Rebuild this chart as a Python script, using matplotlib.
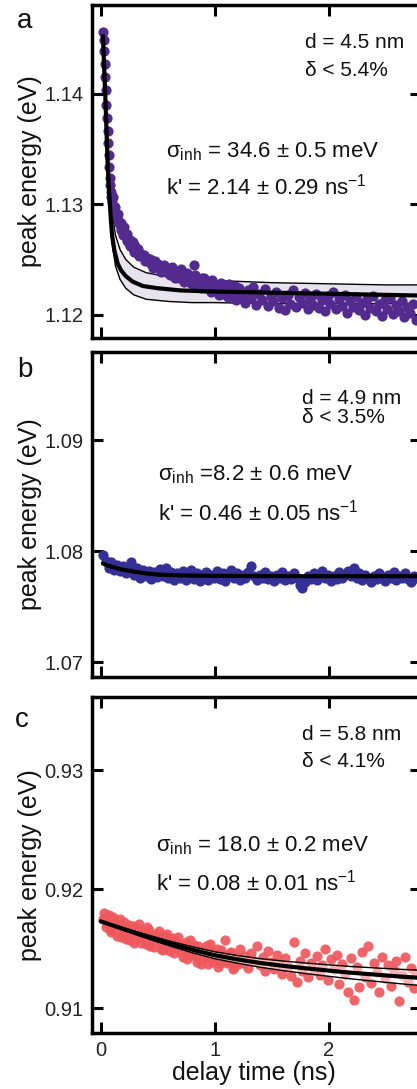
import matplotlib
matplotlib.use("Agg")
import matplotlib.pyplot as plt

plt.rcParams['font.family'] = ['Liberation Sans', 'DejaVu Sans']
plt.rcParams['mathtext.fontset'] = 'custom'
plt.rcParams['mathtext.rm'] = 'Liberation Sans'
plt.rcParams['mathtext.default'] = 'regular'

# ---------------- data ----------------
# panel a: d = 4.5 nm
delay_a = [0.020, 0.025, 0.030, 0.035, 0.040, 0.045, 0.050, 0.055, 0.060, 0.065,
           0.070, 0.075, 0.080, 0.085, 0.090, 0.095, 0.100, 0.110, 0.120, 0.130,
           0.140, 0.150, 0.160, 0.170, 0.180, 0.190, 0.200, 0.215, 0.230, 0.245,
           0.260, 0.275, 0.290,
           0.315, 0.340, 0.365, 0.390, 0.415, 0.440, 0.465, 0.490, 0.515, 0.540,
           0.565, 0.590, 0.615, 0.640, 0.665, 0.690, 0.715, 0.740, 0.765, 0.790,
           0.815, 0.840, 0.865, 0.890, 0.915, 0.940, 0.965, 0.990, 1.015, 1.040,
           1.065, 1.090, 1.115, 1.140, 1.165, 1.190, 1.215, 1.240, 1.265, 1.290,
           1.315, 1.340, 1.365, 1.390, 1.415, 1.440, 1.465, 1.490, 1.515, 1.540,
           1.565, 1.590, 1.615, 1.640, 1.665, 1.690, 1.715, 1.740, 1.765, 1.790,
           1.815, 1.840, 1.865, 1.890, 1.915, 1.940, 1.965, 1.990, 2.015, 2.040,
           2.065, 2.090, 2.115, 2.140, 2.165, 2.190, 2.215, 2.240, 2.265, 2.290,
           2.315, 2.340, 2.365, 2.390, 2.415, 2.440, 2.465, 2.490, 2.515, 2.540,
           2.565, 2.590, 2.615, 2.640, 2.665, 2.690, 2.715, 2.740, 2.765]
energy_a = [1.1456, 1.1448, 1.1438, 1.1427, 1.1415, 1.1403, 1.1390, 1.1378, 1.1366, 1.1355,
            1.1344, 1.1334, 1.1324, 1.1317, 1.1311, 1.1306, 1.1302, 1.1298, 1.1296, 1.1292,
            1.1290, 1.1286, 1.1283, 1.1281, 1.1277, 1.1276, 1.1272, 1.1271, 1.1267, 1.1265,
            1.1262, 1.1261, 1.1257,
            1.1256, 1.1253, 1.1253, 1.1249, 1.1249, 1.1246, 1.1247, 1.1243, 1.1244, 1.1240,
            1.1242, 1.1238, 1.1240, 1.1236, 1.1238, 1.1233, 1.1236, 1.1231, 1.1234, 1.1229,
            1.1245, 1.1231, 1.1226, 1.1233, 1.1224, 1.1230, 1.1221, 1.1228, 1.1223, 1.1218,
            1.1227, 1.1220, 1.1216, 1.1226, 1.1219, 1.1213, 1.1224, 1.1217, 1.1211, 1.1222,
            1.1215, 1.1225, 1.1209, 1.1219, 1.1213, 1.1223, 1.1208, 1.1217, 1.1212, 1.1221,
            1.1206, 1.1215, 1.1204, 1.1218, 1.1210, 1.1222, 1.1207, 1.1216, 1.1211, 1.1220,
            1.1205, 1.1214, 1.1209, 1.1219, 1.1206, 1.1213, 1.1203, 1.1217, 1.1210, 1.1221,
            1.1205, 1.1214, 1.1208, 1.1218, 1.1202, 1.1212, 1.1207, 1.1216, 1.1204, 1.1211,
            1.1200, 1.1214, 1.1206, 1.1217, 1.1203, 1.1210, 1.1199, 1.1213, 1.1205, 1.1215,
            1.1201, 1.1209, 1.1203, 1.1212, 1.1198, 1.1207, 1.1202, 1.1210, 1.1195]
# interleaved acquisitions of panel a during the fast decay
delay_a_mid = [0.105, 0.130, 0.155, 0.180, 0.205, 0.230, 0.255, 0.280, 0.305, 0.330,
               0.355, 0.380, 0.405, 0.430, 0.455, 0.480, 0.505, 0.530, 0.555, 0.580,
               0.605, 0.630, 0.655, 0.680, 0.705, 0.730, 0.755, 0.780, 0.805, 0.830,
               0.855, 0.880, 0.905, 0.930, 0.955, 0.980, 1.005, 1.030, 1.055, 1.080,
               1.105, 1.130, 1.155, 1.180, 1.205]
energy_a_mid = [1.1306, 1.1297, 1.1291, 1.1283, 1.1279, 1.1273, 1.1268, 1.1266, 1.1262, 1.1259,
                1.1255, 1.1254, 1.1251, 1.1250, 1.1242, 1.1249, 1.1246, 1.1239, 1.1245, 1.1242,
                1.1236, 1.1243, 1.1233, 1.1239, 1.1241, 1.1230, 1.1238, 1.1235, 1.1228, 1.1236,
                1.1230, 1.1224, 1.1233, 1.1227, 1.1222, 1.1231, 1.1225, 1.1220, 1.1229, 1.1223,
                1.1217, 1.1228, 1.1221, 1.1226, 1.1215]

fit_t_a = [0.02, 0.03, 0.04, 0.05, 0.06, 0.07, 0.08, 0.09, 0.10, 0.12, 0.15, 0.18,
           0.22, 0.28, 0.37, 0.50, 0.70, 1.00, 1.50, 2.00, 2.50, 3.00]
fit_a = [1.1452, 1.1425, 1.1400, 1.1370, 1.1340, 1.1318, 1.1302, 1.1285, 1.1272, 1.1258,
         1.1246, 1.1240, 1.1235, 1.1230, 1.1226, 1.1224, 1.1222, 1.1221, 1.1220, 1.1219,
         1.1218, 1.1217]
band_t_a = [0.02, 0.04, 0.06, 0.08, 0.10, 0.13, 0.17, 0.22, 0.29, 0.40, 0.60, 0.80,
            1.00, 1.50, 2.00, 2.50, 3.00]
band_lo_a = [1.1450, 1.1392, 1.1330, 1.1290, 1.1265, 1.1244, 1.1232, 1.1224, 1.1218, 1.1214,
             1.1212, 1.1211, 1.1211, 1.1210, 1.1210, 1.1210, 1.1210]
band_hi_a = [1.1455, 1.1408, 1.1355, 1.1318, 1.1293, 1.1272, 1.1259, 1.1250, 1.1243, 1.1238,
             1.1234, 1.1232, 1.1231, 1.1229, 1.1228, 1.1227, 1.1227]

# panels b and c share the same delay sampling
delay_bc = [0.020, 0.045, 0.070, 0.095, 0.120, 0.145, 0.170, 0.195, 0.220, 0.245,
            0.270, 0.295, 0.320, 0.345, 0.370, 0.395, 0.420, 0.445, 0.470, 0.495,
            0.520, 0.545, 0.570, 0.595, 0.620, 0.645, 0.670, 0.695, 0.720, 0.745,
            0.770, 0.795, 0.820, 0.845, 0.870, 0.895, 0.920, 0.945, 0.970, 0.995,
            1.020, 1.045, 1.070, 1.095, 1.120, 1.145, 1.170, 1.195, 1.220, 1.245,
            1.270, 1.295, 1.320, 1.345, 1.370, 1.395, 1.420, 1.445, 1.470, 1.495,
            1.520, 1.545, 1.570, 1.595, 1.620, 1.645, 1.670, 1.695, 1.720, 1.745,
            1.770, 1.795, 1.820, 1.845, 1.870, 1.895, 1.920, 1.945, 1.970, 1.995,
            2.020, 2.045, 2.070, 2.095, 2.120, 2.145, 2.170, 2.195, 2.220, 2.245,
            2.270, 2.295, 2.320, 2.345, 2.370, 2.395, 2.420, 2.445, 2.470, 2.495,
            2.520, 2.545, 2.570, 2.595, 2.620, 2.645, 2.670, 2.695, 2.720, 2.745,
            2.770]

# panel b: d = 4.9 nm
energy_b = [1.0797, 1.0791, 1.0785, 1.0790, 1.0783, 1.0788, 1.0782, 1.0787, 1.0780, 1.0786,
            1.0790, 1.0779, 1.0785, 1.0776, 1.0783, 1.0778, 1.0782, 1.0775, 1.0781, 1.0777,
            1.0784, 1.0778, 1.0785, 1.0776, 1.0781, 1.0774, 1.0780, 1.0776, 1.0782, 1.0774,
            1.0779, 1.0783, 1.0775, 1.0780, 1.0773, 1.0778, 1.0781, 1.0774, 1.0779, 1.0776,
            1.0782, 1.0775, 1.0780, 1.0773, 1.0778, 1.0783, 1.0776, 1.0780, 1.0774, 1.0779,
            1.0776, 1.0781, 1.0787, 1.0778, 1.0774, 1.0779, 1.0776, 1.0781, 1.0775, 1.0778,
            1.0773, 1.0779, 1.0776, 1.0781, 1.0774, 1.0778, 1.0775, 1.0780, 1.0776, 1.0770,
            1.0767, 1.0772, 1.0778, 1.0775, 1.0780, 1.0774, 1.0779, 1.0782, 1.0776, 1.0779,
            1.0773, 1.0778, 1.0775, 1.0781, 1.0776, 1.0779, 1.0782, 1.0778, 1.0785, 1.0776,
            1.0780, 1.0774, 1.0779, 1.0776, 1.0772, 1.0778, 1.0775, 1.0780, 1.0777, 1.0773,
            1.0779, 1.0776, 1.0781, 1.0774, 1.0778, 1.0776, 1.0780, 1.0775, 1.0772, 1.0778,
            1.0776]
fit_t_b = [0.02, 0.05, 0.10, 0.15, 0.20, 0.30, 0.40, 0.50, 0.70, 1.00, 1.50, 2.00, 3.00]
fit_b = [1.07890, 1.07875, 1.07860, 1.07845, 1.07833, 1.07815, 1.07800, 1.07790, 1.07782,
         1.07778, 1.07776, 1.07775, 1.07775]

# panel c: d = 5.8 nm
energy_c = [0.9175, 0.9168, 0.9178, 0.9164, 0.9173, 0.9161, 0.9175, 0.9166, 0.9158, 0.9170,
            0.9163, 0.9155, 0.9167, 0.9160, 0.9164, 0.9154, 0.9166, 0.9158, 0.9151, 0.9162,
            0.9156, 0.9149, 0.9160, 0.9153, 0.9157, 0.9146, 0.9155, 0.9151, 0.9143, 0.9156,
            0.9150, 0.9145, 0.9153, 0.9139, 0.9148, 0.9142, 0.9152, 0.9137, 0.9147, 0.9141,
            0.9150, 0.9138, 0.9145, 0.9157, 0.9140, 0.9147, 0.9135, 0.9143, 0.9150, 0.9138,
            0.9144, 0.9134, 0.9146, 0.9140, 0.9152, 0.9136, 0.9143, 0.9131, 0.9148, 0.9139,
            0.9133, 0.9145, 0.9137, 0.9129, 0.9142, 0.9135, 0.9127, 0.9156, 0.9122, 0.9140,
            0.9131, 0.9146, 0.9126, 0.9138, 0.9132, 0.9144, 0.9128, 0.9136, 0.9150, 0.9124,
            0.9141, 0.9133, 0.9145, 0.9120, 0.9137, 0.9129, 0.9114, 0.9142, 0.9107, 0.9135,
            0.9118, 0.9147, 0.9126, 0.9152, 0.9121, 0.9138, 0.9130, 0.9114, 0.9143, 0.9125,
            0.9136, 0.9119, 0.9132, 0.9140, 0.9106, 0.9128, 0.9143, 0.9122, 0.9134, 0.9117,
            0.9129]
# interleaved early acquisitions of panel c
delay_c_early = [0.0325, 0.0575, 0.0825, 0.1075, 0.1325, 0.1575, 0.1825, 0.2075,
                 0.2325, 0.2575, 0.2825, 0.3075, 0.3325, 0.3575, 0.3825, 0.4075,
                 0.4325, 0.4575, 0.4825, 0.5075, 0.5325, 0.5575, 0.5825, 0.6075,
                 0.6325, 0.6575, 0.6825, 0.7075, 0.7325, 0.7575, 0.7825, 0.8075,
                 0.8325, 0.8575, 0.8825, 0.9075, 0.9325, 0.9575, 0.9825, 1.0075,
                 1.0325, 1.0575, 1.0825, 1.1075, 1.1325, 1.1575, 1.1825, 1.2075]
energy_c_early = [0.9180, 0.9171, 0.9166, 0.9177, 0.9168, 0.9170, 0.9160, 0.9172,
                  0.9165, 0.9157, 0.9169, 0.9162, 0.9171, 0.9155, 0.9163, 0.9168,
                  0.9152, 0.9161, 0.9157, 0.9165, 0.9150, 0.9158, 0.9162, 0.9148,
                  0.9159, 0.9154, 0.9160, 0.9147, 0.9153, 0.9141, 0.9157, 0.9150,
                  0.9144, 0.9152, 0.9137, 0.9148, 0.9143, 0.9154, 0.9139, 0.9146,
                  0.9135, 0.9149, 0.9141, 0.9138, 0.9146, 0.9133, 0.9142, 0.9137]
fit_t_c = [0.0, 0.2, 0.4, 0.6, 0.8, 1.0, 1.2, 1.4, 1.6, 1.8, 2.0, 2.2, 2.4, 2.6, 2.8, 3.0]
fit_c = [0.91730, 0.91665, 0.91603, 0.91545, 0.91492, 0.91445, 0.91410, 0.91380, 0.91356,
         0.91335, 0.91316, 0.91298, 0.91283, 0.91268, 0.91255, 0.91243]
band_lo_c = [0.91730, 0.91655, 0.91587, 0.91525, 0.91467, 0.91416, 0.91378, 0.91344, 0.91316,
             0.91291, 0.91268, 0.91246, 0.91227, 0.91208, 0.91191, 0.91175]
band_hi_c = [0.91730, 0.91675, 0.91619, 0.91565, 0.91517, 0.91474, 0.91442, 0.91416, 0.91396,
             0.91379, 0.91364, 0.91350, 0.91339, 0.91328, 0.91319, 0.91311]

yticks_a = [1.12, 1.13, 1.14]
yticks_b = [1.07, 1.08, 1.09]
yticks_c = [0.91, 0.92, 0.93]
xticks = [0, 1, 2]

# ---------------- layout ----------------
W, H = 417, 1089
fig = plt.figure(figsize=(W / 100, H / 100), dpi=100)


def box(left, top, right, bottom):
    return [left / W, 1 - bottom / H, (right - left) / W, (bottom - top) / H]


ax_a = fig.add_axes(box(92, 5, 421, 338))
ax_b = fig.add_axes(box(92, 352, 421, 677))
ax_c = fig.add_axes(box(92, 697, 421, 1033))

col_a = '#532a8e'
col_b = '#343096'
col_c = '#ee585c'
dot = 54

# panel a
ax_a.fill_between(band_t_a, band_lo_a, band_hi_a, color='#e6e3ec', lw=0, zorder=1)
ax_a.plot(band_t_a, band_lo_a, color='black', lw=1.0, zorder=2)
ax_a.plot(band_t_a, band_hi_a, color='black', lw=1.0, zorder=2)
ax_a.scatter(delay_a, energy_a, s=dot, color=col_a, lw=0, zorder=3)
ax_a.scatter(delay_a_mid, energy_a_mid, s=dot, color=col_a, lw=0, zorder=3)
ax_a.plot(fit_t_a, fit_a, color='black', lw=3.0, zorder=4, solid_capstyle='round')
ax_a.set_ylim(1.1179, 1.1480)
ax_a.set_yticks(yticks_a)

# panel b
ax_b.scatter(delay_bc, energy_b, s=dot, color=col_b, lw=0, zorder=3)
ax_b.plot(fit_t_b, fit_b, color='black', lw=3.0, zorder=4, solid_capstyle='round')
ax_b.set_ylim(1.06868, 1.09793)
ax_b.set_yticks(yticks_b)

# panel c
ax_c.scatter(delay_bc, energy_c, s=dot, color=col_c, lw=0, alpha=0.92, zorder=1)
ax_c.scatter(delay_c_early, energy_c_early, s=dot, color=col_c, lw=0, alpha=0.92, zorder=1)
ax_c.fill_between(fit_t_c, band_lo_c, band_hi_c, color='white', alpha=0.5, lw=0, zorder=2)
ax_c.plot(fit_t_c, band_lo_c, color='black', lw=1.0, zorder=3)
ax_c.plot(fit_t_c, band_hi_c, color='black', lw=1.0, zorder=3)
ax_c.plot(fit_t_c, fit_c, color='black', lw=3.0, zorder=4, solid_capstyle='round')
ax_c.set_ylim(0.90792, 0.93613)
ax_c.set_yticks(yticks_c)

for ax in (ax_a, ax_b, ax_c):
    ax.set_xlim(-0.076, 2.81)
    ax.set_xticks(xticks)
    for sp in ax.spines.values():
        sp.set_linewidth(2.5)
    ax.tick_params(direction='in', length=8, width=2.2, top=True, right=True,
                   labelsize=14.5, pad=6, labelcolor='#222222')
    ax.set_ylabel('peak energy (eV)', fontsize=18, color='#111111')
    ax.yaxis.set_label_coords(-0.152, 0.5)

ax_a.tick_params(labelbottom=False)
ax_b.tick_params(labelbottom=False)
ax_c.set_xlabel('delay time (ns)', fontsize=18, color='#111111')
ax_c.xaxis.set_label_coords(0.492, -0.083)


def put(x, y, s, size=15):
    fig.text(x / W, 1 - y / H, s, fontsize=size, va='baseline', ha='left', color='#111111')


put(17, 28, 'a', 20)
put(305, 48, 'd = 4.5 nm')
put(305, 76, 'δ < 5.4%')
put(166, 157, 'σ$_{inh}$ = 34.6 ± 0.5 meV', 16)
put(166, 195, "k' = 2.14 ± 0.29 ns$^{-1}$", 16)

put(17, 377, 'b', 20)
put(302, 404, 'd = 4.9 nm')
put(302, 423, 'δ < 3.5%')
put(158, 480, 'σ$_{inh}$ =8.2 ± 0.6 meV', 16)
put(158, 520, "k' = 0.46 ± 0.05 ns$^{-1}$", 16)

put(15, 727, 'c', 20)
put(302, 740, 'd = 5.8 nm')
put(302, 767, 'δ < 4.1%')
put(156, 851, 'σ$_{inh}$ = 18.0 ± 0.2 meV', 16)
put(156, 891, "k' = 0.08 ± 0.01 ns$^{-1}$", 16)

fig.savefig('out.png', dpi=100)
